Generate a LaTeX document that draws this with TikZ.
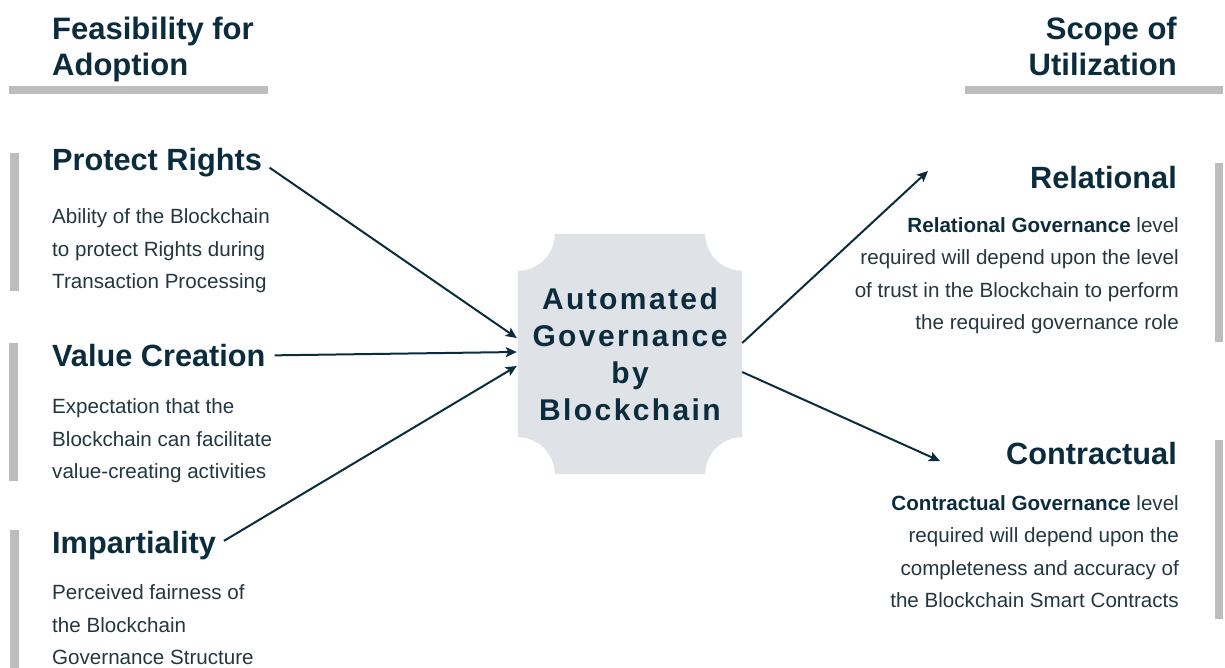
\documentclass[tikz,border=0pt]{standalone}
\usepackage{fontspec}
\setmainfont{Liberation Sans}
\newfontfamily\spacedfont[LetterSpace=8]{Liberation Sans}
\usetikzlibrary{calc,arrows.meta,backgrounds}

\definecolor{navy}{HTML}{0B2C3D}
\definecolor{bodytext}{HTML}{24363F}
\definecolor{bargray}{HTML}{BDBDBD}
\definecolor{govfill}{HTML}{DFE2E6}

\begin{document}
\begin{tikzpicture}[x=1pt, y=-1pt,
  head/.style={inner sep=0pt, text=navy, font=\fontsize{31}{36}\selectfont\bfseries},
  item/.style={inner sep=0pt, text=navy, font=\fontsize{30.7}{36}\selectfont\bfseries},
  desc/.style={inner sep=0pt, text=bodytext, font=\fontsize{20.6}{32.5}\selectfont},
  arr/.style={draw=navy, line width=2pt, -{Stealth[length=11pt, width=10pt, inset=2.5pt]}}]

\useasboundingbox (0,0) rectangle (1225,668);

% Column headings
\node[head, align=left, anchor=north west] (feas) at (52,16.5) {Feasibility for\\Adoption};
\node[head, align=right, anchor=north east] (scope) at (1177,16.5) {Scope of\\Utilization};
\fill[bargray] (9,86) rectangle (268,94);
\fill[bargray] (965,86) rectangle (1223,94);

% Left column
\node[item, anchor=north west] (prot) at (52,148) {Protect Rights};
\node[desc, align=left, anchor=north west] (protdesc) at (52,208.5)
  {Ability of the Blockchain\\to protect Rights during\\Transaction Processing};
\fill[bargray] (10,153) rectangle (19,291);

\node[item, anchor=north west] (value) at (52,344) {Value Creation};
\node[desc, align=left, anchor=north west] (valuedesc) at (52,398.5)
  {Expectation that the\\Blockchain can facilitate\\value-creating activities};
\fill[bargray] (9,343) rectangle (18,481);

\node[item, anchor=north west] (impart) at (52,531) {Impartiality};
\node[desc, align=left, anchor=north west] (impartdesc) at (52,584.5)
  {Perceived fairness of\\the Blockchain\\Governance Structure};
\fill[bargray] (10,530) rectangle (19,668);

% Right column
\node[item, anchor=north east] (rel) at (1177,166) {Relational};
\node[desc, align=right, anchor=north east] (reldesc) at (1179,217)
  {{\bfseries\color{navy}Relational Governance} level\\required will depend upon the level\\of trust in the Blockchain to perform\\the required governance role};
\fill[bargray] (1215,163) rectangle (1223,342);

\node[item, anchor=north east] (con) at (1177,442) {Contractual};
\node[desc, align=right, anchor=north east] (condesc) at (1179,495)
  {{\bfseries\color{navy}Contractual Governance} level\\required will depend upon the\\completeness and accuracy of\\the Blockchain Smart Contracts};
\fill[bargray] (1215,440) rectangle (1223,619);

% Centre block
\node[inner sep=0pt, minimum width=224pt, minimum height=240pt, align=center, text=navy,
  font=\spacedfont\bfseries\fontsize{30}{37}\selectfont] (ctr) at (630,354)
  {Automated\\Governance\\by\\Blockchain};
\begin{pgfonlayer}{background}
\fill[govfill] ($(ctr.north west)+(37,0)$) -- ($(ctr.north east)+(-37,0)$)
  arc[start angle=180, end angle=90, radius=37] -- ($(ctr.south east)+(0,-37)$)
  arc[start angle=270, end angle=180, radius=37] -- ($(ctr.south west)+(37,0)$)
  arc[start angle=0, end angle=-90, radius=37] -- ($(ctr.north west)+(0,37)$)
  arc[start angle=90, end angle=0, radius=37] -- cycle;
\end{pgfonlayer}

% Arrow ends
\coordinate (inA) at ($(ctr.west)+(-1,-16)$);
\coordinate (inB) at ($(ctr.west)+(-1,-2)$);
\coordinate (inC) at ($(ctr.west)+(-1,12)$);
\coordinate (outA) at ($(ctr.east)+(0,-11)$);
\coordinate (outB) at ($(ctr.east)+(0,18)$);
\coordinate (relend) at (928,171);
\coordinate (conend) at (940,461);

% Arrows
\draw[arr, shorten <=9pt] (prot.east) -- (inA);
\draw[arr, shorten <=9pt] (value.east) -- (inB);
\draw[arr, shorten <=9pt] (impart.east) -- (inC);
\draw[arr] (outA) -- (relend);
\draw[arr] (outB) -- (conend);

\end{tikzpicture}
\end{document}
